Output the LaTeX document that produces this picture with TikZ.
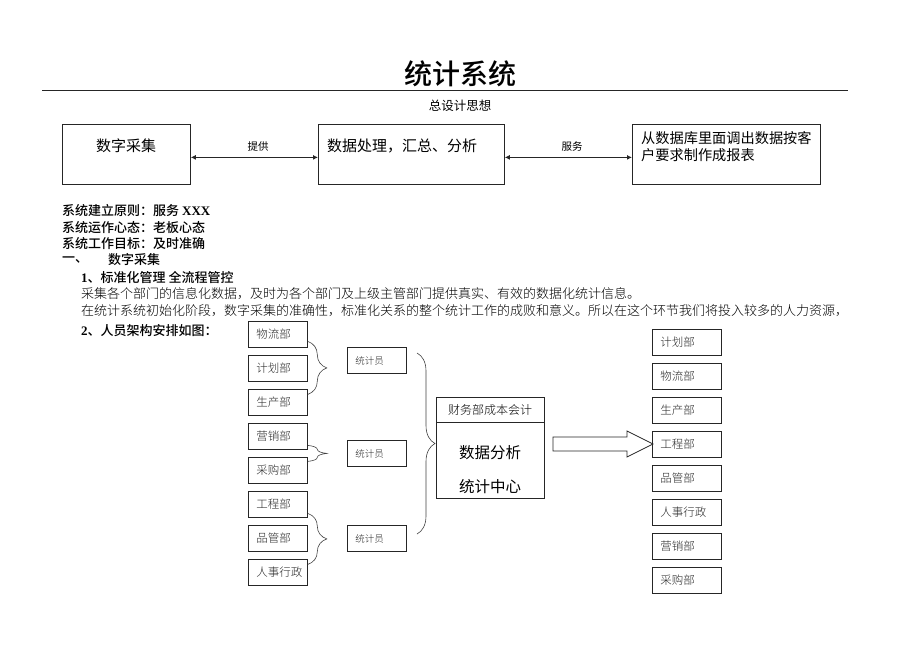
\documentclass[tikz,border=0pt]{standalone}
\usepackage{fontspec}
\setmainfont{Liberation Serif}
\newfontfamily\cjk{Noto Sans CJK SC}
\newfontfamily\cjkl{Noto Sans CJK SC Light}
\newfontfamily\cjkm{Noto Sans CJK SC Medium}
\usetikzlibrary{decorations.pathreplacing,arrows.meta,calc}
\begin{document}
\begin{tikzpicture}[x=1pt,y=-1pt,
  box/.style={draw=black!85,line width=0.8pt,inner sep=0pt,anchor=north west},
  topbox/.style={box,minimum height=60pt},
  dept/.style={box,minimum height=26pt,inner xsep=8pt,text width=43pt,align=left,
               font=\cjkl\fontsize{11.5}{12}\selectfont,text=black!85},
  rdept/.style={dept,text width=53pt},
  stat/.style={dept,font=\cjkl\fontsize{9.5}{11}\selectfont},
  hd/.style={anchor=west,inner sep=0pt,font=\cjkm\fontsize{13}{15}\selectfont},
  body/.style={anchor=west,inner sep=0pt,font=\cjkl\fontsize{13}{15}\selectfont},
  lbl/.style={inner sep=0pt,font=\cjk\fontsize{10.5}{12}\selectfont},
  dbl/.style={{Latex[length=5pt,width=5pt]}-{Latex[length=5pt,width=5pt]},line width=1.3pt,black!85},
  brc/.style={decorate,decoration={brace,amplitude=#1},line width=0.6pt,black!75},
]
\useasboundingbox (0,0) rectangle (920,651);

% title
\node[inner sep=0pt,font=\cjkm\fontsize{28}{30}\selectfont] (title) at (460,74) {统计系统};
\coordinate (rl) at (42,90);
\coordinate (rr) at (848,90);
\draw[line width=1pt,black!85] (rl) -- (rr);
\node[inner sep=0pt,font=\cjk\fontsize{12.5}{14}\selectfont] (sub) at (460,106) {总设计思想};

% top boxes
\node[topbox,minimum width=128pt] (b1) at (62,124) {};
\node[topbox,minimum width=186pt] (b2) at (318,124) {};
\node[topbox,minimum width=188pt] (b3) at (632,124) {};
\node[inner sep=0pt,font=\cjk\fontsize{15}{17}\selectfont] (t1) at (126,146) {数字采集};
\node[anchor=west,inner sep=0pt,font=\cjk\fontsize{15}{17}\selectfont] (t2) at (327,146) {数据处理，汇总、分析};
\node[anchor=west,inner sep=0pt,font=\cjk\fontsize{14.2}{17}\selectfont] (t3a) at (641,138) {从数据库里面调出数据按客};
\node[anchor=west,inner sep=0pt,font=\cjk\fontsize{14.2}{17}\selectfont] (t3b) at (641,155) {户要求制作成报表};
\draw[dbl] ([yshift=-3pt]b1.east) -- ([yshift=-3pt]b2.west);
\draw[dbl] ([yshift=-3pt]b2.east) -- ([yshift=-3pt]b3.west);
\node[lbl] (l1) at (258,147) {提供};
\node[lbl] (l2) at (572,147) {服务};

% text
\node[hd] (h1) at (62,211) {系统建立原则：服务 {\rmfamily\bfseries XXX}};
\node[hd] (h2) at (62,228) {系统运作心态：老板心态};
\node[hd] (h3) at (62,244) {系统工作目标：及时准确};
\node[hd] (h4a) at (62,260) {一、};
\node[hd] (h4b) at (108,260) {数字采集};
\node[hd] (h5) at (81,277) {{\rmfamily\bfseries 1}、标准化管理 全流程管控};
\node[body] (p1) at (81,294) {采集各个部门的信息化数据，及时为各个部门及上级主管部门提供真实、有效的数据化统计信息。};
\node[body] (p2) at (81,311) {在统计系统初始化阶段，数字采集的准确性，标准化关系的整个统计工作的成败和意义。所以在这个环节我们将投入较多的人力资源，};
\node[hd] (h6) at (81,331) {{\rmfamily\bfseries 2}、人员架构安排如图：};

% left departments
\node[dept] (d1) at (248,321) {物流部};
\node[dept] (d2) at (248,355) {计划部};
\node[dept] (d3) at (248,389) {生产部};
\node[dept] (d4) at (248,423) {营销部};
\node[dept] (d5) at (248,457) {采购部};
\node[dept] (d6) at (248,491) {工程部};
\node[dept] (d7) at (248,525) {品管部};
\node[dept] (d8) at (248,559) {人事行政};

% braces to statisticians
\draw[brc=19pt] ([yshift=-7pt]d1.east) -- ([yshift=8pt]d3.east);
\draw[brc=19pt] ([yshift=-9pt]d4.east) -- ([yshift=9pt]d5.east);
\draw[brc=19pt] ([yshift=-9pt]d6.east) -- ([yshift=8pt]d8.east);

% statisticians
\node[stat] (s1) at (347,347) {统计员};
\node[stat] (s2) at (347,440) {统计员};
\node[stat] (s3) at (347,525) {统计员};

% big brace
\coordinate (bt) at (417,353);
\coordinate (bb) at (417,534);
\draw[brc=18pt] (bt) -- (bb);

% centre box
\node[box,minimum width=108pt,minimum height=101pt] (fc) at (436,397) {};
\draw[line width=0.8pt,black!85] ([yshift=-25pt]fc.north west) -- ([yshift=-25pt]fc.north east);
\node[inner sep=0pt,font=\cjkl\fontsize{12}{14}\selectfont] (fch) at (490,410) {财务部成本会计};
\node[inner sep=0pt,font=\cjk\fontsize{15.5}{17}\selectfont] (fc1) at (490,453) {数据分析};
\node[inner sep=0pt,font=\cjk\fontsize{15.5}{17}\selectfont] (fc2) at (490,487) {统计中心};

% block arrow
\draw[line width=0.8pt,black!85,fill=white]
  (553,437) -- (627,437) -- (627,431) -- (653,444) -- (627,457) -- (627,451) -- (553,451) -- cycle;

% right departments
\node[rdept] (r1) at (652,329) {计划部};
\node[rdept] (r2) at (652,363) {物流部};
\node[rdept] (r3) at (652,397) {生产部};
\node[rdept] (r4) at (652,431) {工程部};
\node[rdept] (r5) at (652,465) {品管部};
\node[rdept] (r6) at (652,499) {人事行政};
\node[rdept] (r7) at (652,533) {营销部};
\node[rdept] (r8) at (652,567) {采购部};
\end{tikzpicture}
\end{document}
